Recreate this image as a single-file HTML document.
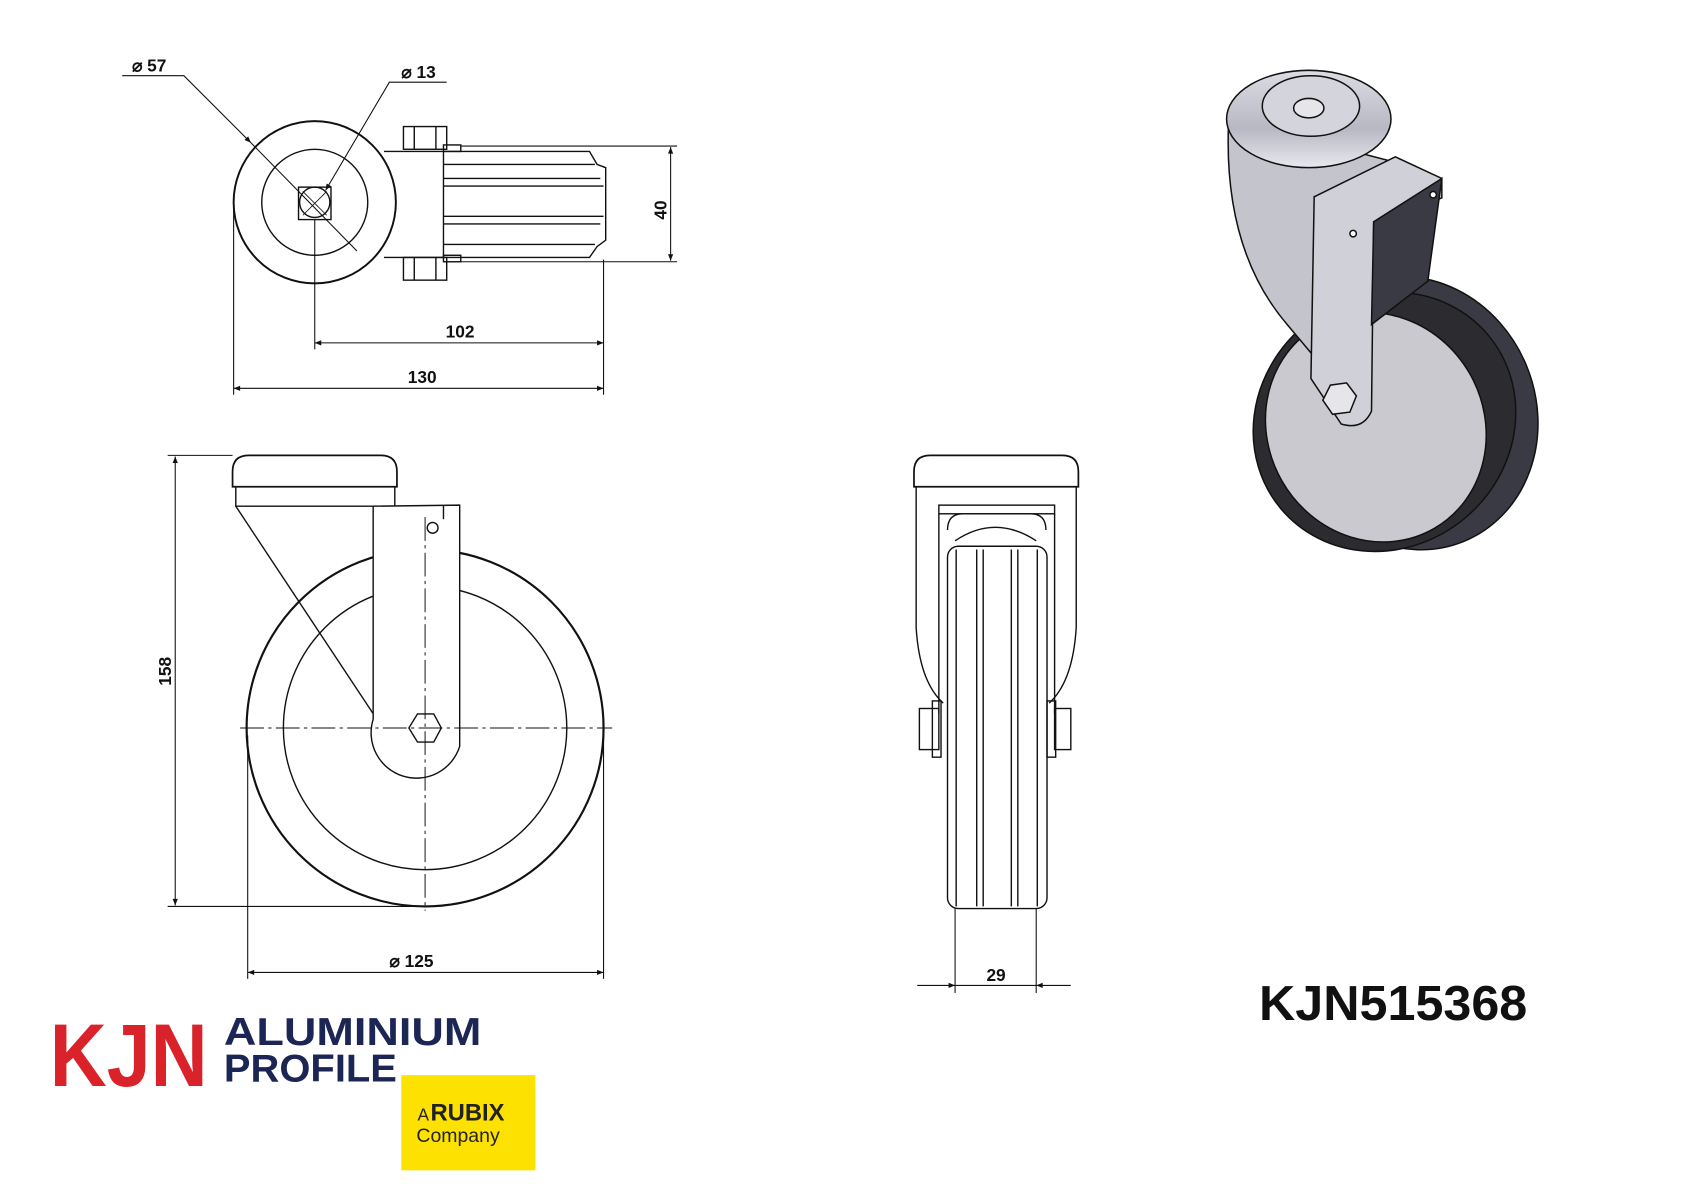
<!DOCTYPE html>
<html><head><meta charset="utf-8"><style>
html,body{margin:0;padding:0;background:#fff;width:1696px;height:1200px;overflow:hidden}
svg{display:block}
text{font-family:"Liberation Sans",sans-serif;fill:#111}
</style></head><body>
<svg width="1696" height="1200" viewBox="0 0 1568 1109.4" preserveAspectRatio="none" xmlns="http://www.w3.org/2000/svg">
<defs>
<marker id="a" viewBox="0 0 10 10" refX="10" refY="5" markerWidth="10" markerHeight="6" orient="auto-start-reverse" markerUnits="userSpaceOnUse"><path d="M0,1 L10,5 L0,9 z" fill="#111"/></marker>
<linearGradient id="hg" x1="0" y1="0" x2="0" y2="1"><stop offset="0" stop-color="#dcdce4"/><stop offset="0.6" stop-color="#b8b8c4"/><stop offset="1" stop-color="#e8e8ee"/></linearGradient>
</defs>
<g fill="none" stroke="#111" stroke-width="1.3">
<!-- TOP VIEW -->
<circle cx="291" cy="187" r="75" stroke-width="1.8"/>
<circle cx="291" cy="187" r="49"/>
<circle cx="291" cy="187" r="14"/>
<rect x="276" y="173" width="30" height="30"/>
<line x1="280" y1="177" x2="302" y2="199" stroke-width="0.8"/>
<line x1="302" y1="177" x2="280" y2="199" stroke-width="0.8"/>
<path d="M355 140 H410 V238 H355"/>
<rect x="373" y="117" width="40" height="21"/>
<line x1="383" y1="117" x2="383" y2="138"/><line x1="403" y1="117" x2="403" y2="138"/>
<rect x="373" y="238" width="40" height="21"/>
<line x1="383" y1="238" x2="383" y2="259"/><line x1="403" y1="238" x2="403" y2="259"/>
<rect x="410" y="134" width="16" height="6"/><rect x="410" y="236" width="16" height="6"/>
<path d="M410 140 H545 L552 152 L560 155 V222 L552 228 L545 238 H410"/>
<line x1="410" y1="165" x2="555" y2="165"/><line x1="410" y1="172" x2="558" y2="172"/>
<line x1="410" y1="200" x2="558" y2="200"/><line x1="410" y1="207" x2="555" y2="207"/>
<line x1="410" y1="152" x2="550" y2="152"/><line x1="410" y1="226" x2="550" y2="226"/>
<!-- dims top -->
<g stroke-width="1">
<line x1="426" y1="135" x2="626" y2="135"/><line x1="426" y1="242" x2="626" y2="242"/>
<line x1="620" y1="136" x2="620" y2="241" marker-start="url(#a)" marker-end="url(#a)"/>
<line x1="216" y1="190" x2="216" y2="365"/><line x1="291" y1="203" x2="291" y2="323"/><line x1="558" y1="240" x2="558" y2="365"/>
<line x1="291" y1="317" x2="558" y2="317" marker-start="url(#a)" marker-end="url(#a)"/>
<line x1="216" y1="359" x2="558" y2="359" marker-start="url(#a)" marker-end="url(#a)"/>
<polyline points="113,70 170,70 232,132" marker-end="url(#a)"/>
<line x1="232" y1="132" x2="330" y2="232"/>
<polyline points="413,76 360,76 301,176" marker-end="url(#a)"/>
</g>
<!-- FRONT VIEW -->
<circle cx="393" cy="673" r="165" stroke-width="2"/>
<circle cx="393" cy="673" r="131"/>
<path d="M218 450 H365 V468 H218 Z"/>
<path d="M230 421 H352 Q367 421 367 436 V450 H215 V436 Q215 421 230 421 Z" stroke-width="1.6"/>
<path d="M218 468 L365 690"/>
<path d="M345 468 V665 A32 32 0 0 0 425 690 V467 Z" fill="#fff"/>
<line x1="410" y1="467" x2="410" y2="480"/>
<circle cx="400" cy="488" r="5"/>
<polygon points="378,673 386,660 401,660 408,673 401,686 386,686" fill="#fff"/>
<g stroke-width="0.9" stroke-dasharray="22,4,3,4">
<line x1="222" y1="673" x2="566" y2="673"/>
<line x1="393" y1="478" x2="393" y2="842"/>
</g>
<g stroke-width="1">
<line x1="155" y1="421" x2="215" y2="421"/><line x1="155" y1="838" x2="395" y2="838"/>
<line x1="162" y1="422" x2="162" y2="837" marker-start="url(#a)" marker-end="url(#a)"/>
<line x1="229" y1="680" x2="229" y2="905"/><line x1="558" y1="680" x2="558" y2="905"/>
<line x1="229" y1="899" x2="558" y2="899" marker-start="url(#a)" marker-end="url(#a)"/>
</g>
<!-- SIDE VIEW -->
<path d="M860 421 H982 Q997 421 997 436 V450 H845 V436 Q845 421 860 421 Z" stroke-width="1.6"/>
<path d="M847 450 V580 Q850 630 872 650 M995 450 V580 Q992 630 970 650"/>
<rect x="868" y="467" width="107" height="8"/>
<path d="M868 475 V660 M975 475 V660"/>
<path d="M876 490 Q876 475 890 475 H953 Q967 475 967 490"/>
<path d="M883 500 Q920 475 958 500"/>
<rect x="876" y="505" width="92" height="335" rx="10"/>
<line x1="884" y1="508" x2="884" y2="838"/><line x1="959" y1="508" x2="959" y2="838"/>
<line x1="903" y1="508" x2="903" y2="838"/><line x1="909" y1="508" x2="909" y2="838"/>
<line x1="935" y1="508" x2="935" y2="838"/><line x1="941" y1="508" x2="941" y2="838"/>
<rect x="850" y="655" width="18" height="38"/><rect x="862" y="648" width="8" height="52"/>
<rect x="975" y="655" width="15" height="38"/><rect x="968" y="648" width="8" height="52"/>
<g stroke-width="1">
<line x1="883" y1="840" x2="883" y2="918"/><line x1="958" y1="840" x2="958" y2="918"/>
<line x1="848" y1="911" x2="883" y2="911" marker-end="url(#a)"/>
<line x1="990" y1="911" x2="958" y2="911" marker-end="url(#a)"/>
<line x1="883" y1="911" x2="958" y2="911"/>
</g>
</g>
<!-- 3D -->
<g stroke="#111" stroke-width="1.4">
<ellipse cx="1305" cy="382" rx="115" ry="128" transform="rotate(-22 1305 382)" fill="#3a3a44"/>
<ellipse cx="1280" cy="390" rx="125" ry="116" transform="rotate(-40 1280 390)" fill="#2c2c30"/>
<ellipse cx="1272" cy="395" rx="100" ry="108" transform="rotate(-30 1272 395)" fill="#c9c9cf"/>
<path d="M1136 110 Q1130 230 1190 300 L1232 350 L1215 182 L1290 150 Z" fill="#c4c4cc"/>
<path d="M1215 182 L1290 145 L1333 165 L1333 183 L1270 205 L1268 380 Q1260 398 1240 392 L1212 350 Z" fill="#d0d0d8"/>
<path d="M1270 205 L1333 165 L1320 260 L1268 300 Z" fill="#3a3a44"/>
<ellipse cx="1210" cy="110" rx="76" ry="45" fill="url(#hg)"/>
<ellipse cx="1212" cy="98" rx="45" ry="28" fill="#d4d4dc"/>
<ellipse cx="1210" cy="100" rx="14" ry="9" fill="#e6e6ea"/>
<polygon points="1223,370 1230,356 1245,354 1254,366 1248,381 1232,383" fill="#e6e6ea"/>
<circle cx="1251" cy="216" r="3" fill="#fff"/>
<circle cx="1325" cy="180" r="3" fill="#fff"/>
</g>
<!-- labels -->
<g font-size="16" font-weight="bold">
<text x="122" y="66">⌀ 57</text>
<text x="371" y="72">⌀ 13</text>
<text x="412" y="312">102</text>
<text x="377" y="354">130</text>
<text x="360" y="894">⌀ 125</text>
<text x="912" y="907">29</text>
<text transform="translate(616,203) rotate(-90)">40</text>
<text transform="translate(158,634) rotate(-90)">158</text>
</g>
<text x="1164" y="943" font-size="45" font-weight="bold" style="fill:#111" textLength="248" lengthAdjust="spacingAndGlyphs">KJN515368</text>
<text x="46" y="1004" font-size="82" font-weight="bold" style="fill:#d9222a" textLength="146" lengthAdjust="spacingAndGlyphs">KJN</text>
<text x="207" y="966" font-size="36" font-weight="bold" style="fill:#1c2655" textLength="238" lengthAdjust="spacingAndGlyphs">ALUMINIUM</text>
<text x="207" y="1000" font-size="36" font-weight="bold" style="fill:#1c2655" textLength="160" lengthAdjust="spacingAndGlyphs">PROFILE</text>
<rect x="371" y="994" width="124" height="88" fill="#fde100"/>
<text x="386" y="1036" font-size="16" style="fill:#222">A</text>
<text x="398" y="1036" font-size="22" font-weight="bold" style="fill:#222">RUBIX</text>
<text x="385" y="1056" font-size="18" style="fill:#222">Company</text>
</svg>
</body></html>
